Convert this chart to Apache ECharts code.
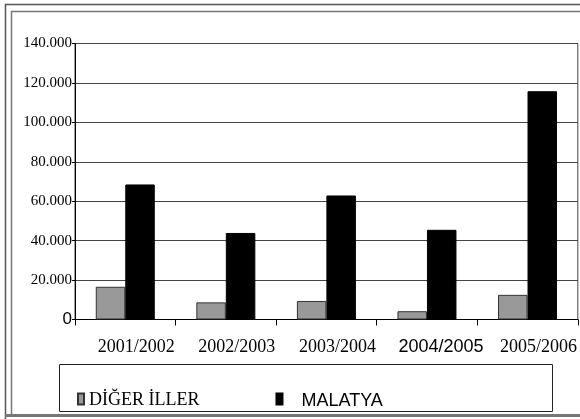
<!DOCTYPE html>
<html>
<head>
<meta charset="utf-8">
<script src="https://cdn.jsdelivr.net/npm/echarts@6/dist/echarts.min.js"></script>
<style>
  html, body { margin: 0; padding: 0; background: #fff; }
  #chart { width: 580px; height: 419px; }
</style>
</head>
<body>
<div id="chart"></div>
<script>
'use strict';

// data
const categories = ['2001/2002', '2002/2003', '2003/2004', '2004/2005', '2005/2006'];
const digerIller = [16600, 8700, 9400, 4200, 12500];
const malatya = [68500, 43900, 62900, 45500, 115800];
const seriesNames = ['DİĞER İLLER', 'MALATYA'];

const serif = '"Liberation Serif", "Times New Roman", serif';
const sans = '"Liberation Sans", Arial, sans-serif';

// 140000 -> "140.000"
function dotThousands(v) {
  return String(v).replace(/\B(?=(\d{3})+(?!\d))/g, '.');
}

var chart = echarts.init(document.getElementById('chart'));
const option = {
  animation: false,
  backgroundColor: '#fff',
  textStyle: { fontFamily: serif, color: '#000' },
  graphic: [
    // double frame round the whole chart
    { type: 'polyline', shape: { points: [[5.5, 419], [5.5, 4.5], [585, 4.5]] },
      style: { fill: null, stroke: '#555', lineWidth: 1.5 }, silent: true },
    { type: 'polyline', shape: { points: [[11.5, 416], [11.5, 11.5], [585, 11.5]] },
      style: { fill: null, stroke: '#777', lineWidth: 1.5 }, silent: true },
    { type: 'line', shape: { x1: 5, y1: 415.5, x2: 585, y2: 415.5 },
      style: { stroke: '#777', lineWidth: 3 }, silent: true },
    // legend box
    { type: 'rect', z: -1, shape: { x: 59.5, y: 364.5, width: 493, height: 47 },
      style: { fill: '#fff', stroke: '#222', lineWidth: 1 }, silent: true }
  ],
  legend: {
    data: seriesNames,
    left: 72,
    top: 386,
    itemWidth: 6,
    itemHeight: 11,
    itemGap: 76,
    icon: 'rect',
    formatter: function (name) {
      return name === 'MALATYA' ? '{s|' + name + '}' : '{t|' + name + '}';
    },
    textStyle: {
      rich: {
        t: { fontFamily: serif, fontSize: 18, color: '#000', padding: [2, 0, 0, 0] },
        s: { fontFamily: sans, fontSize: 18, color: '#000', padding: [4, 0, 0, 14] }
      }
    }
  },
  grid: {
    left: 75,
    right: 2,
    top: 43.5,
    bottom: 99.5,
    show: true,
    borderColor: '#444',
    borderWidth: 1
  },
  xAxis: {
    type: 'category',
    data: categories,
    axisLine: { lineStyle: { color: '#000', width: 1 } },
    axisTick: { show: true, length: 6, lineStyle: { color: '#000' } },
    axisLabel: {
      margin: 19,
      interval: 0,
      formatter: function (v, i) {
        return i === 3 ? '{s|' + v + '}' : '{t|' + v + '}';
      },
      rich: {
        t: { fontFamily: serif, fontSize: 18, color: '#000', padding: [0, 0, 0, 22] },
        s: { fontFamily: sans, fontSize: 18, color: '#000', padding: [0, 0, 0, 28] }
      }
    }
  },
  yAxis: {
    type: 'value',
    min: 0,
    max: 140000,
    interval: 20000,
    axisLine: { show: true, lineStyle: { color: '#000', width: 1 } },
    axisTick: { show: true, length: 3, lineStyle: { color: '#000' } },
    splitLine: { lineStyle: { color: '#444', width: 1 } },
    axisLabel: {
      margin: 3,
      formatter: function (v) {
        return v === 0 ? '{z|0}' : '{t|' + dotThousands(v) + '}';
      },
      rich: {
        t: { fontFamily: serif, fontSize: 15, color: '#000' },
        z: { fontFamily: sans, fontSize: 17, color: '#000' }
      }
    }
  },
  series: [
    {
      name: seriesNames[0],
      type: 'bar',
      data: digerIller,
      barWidth: 29.5,
      barGap: '0%',
      itemStyle: { color: '#999999', borderColor: '#333', borderWidth: 1 }
    },
    {
      name: seriesNames[1],
      type: 'bar',
      data: malatya,
      barWidth: 29.5,
      itemStyle: { color: '#000', borderColor: '#000', borderWidth: 1 }
    }
  ]
};
chart.setOption(option);
</script>
</body>
</html>
